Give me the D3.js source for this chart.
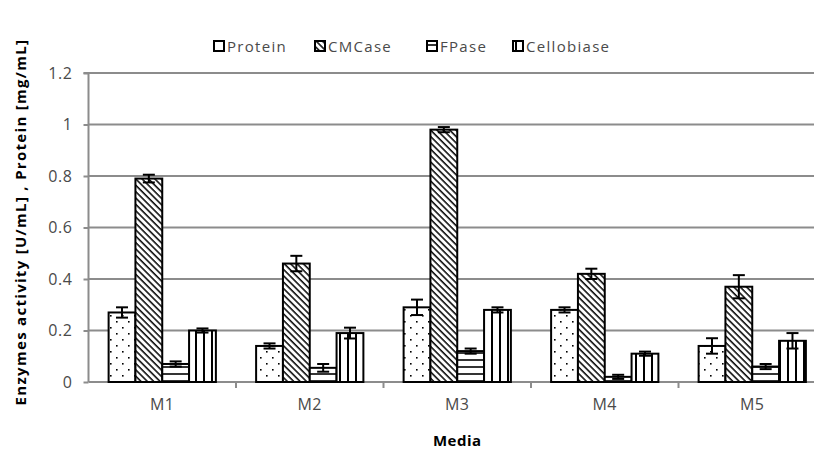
<!DOCTYPE html>
<html><head><meta charset="utf-8">
<script src="https://cdnjs.cloudflare.com/ajax/libs/d3/7.8.5/d3.min.js"></script>
<style>body{margin:0;background:#fff}svg{display:block}</style>
</head><body><svg id="c" width="814" height="450"></svg>
<script>
const categories = ["M1","M2","M3","M4","M5"];
const seriesNames = ["Protein","CMCase","FPase","Cellobiase"];
const protein    = [0.27,0.14,0.29,0.28,0.14];
const cmcase     = [0.79,0.46,0.98,0.42,0.37];
const fpase      = [0.07,0.055,0.12,0.02,0.06];
const cellobiase = [0.20,0.19,0.28,0.11,0.16];
const proteinErr    = [0.02,0.01,0.03,0.01,0.03];
const cmcaseErr     = [0.015,0.03,0.01,0.02,0.045];
const fpaseErr      = [0.01,0.015,0.01,0.008,0.01];
const cellobiaseErr = [0.008,0.021,0.01,0.008,0.03];
const yTicks = [0,0.2,0.4,0.6,0.8,1,1.2];
const yTickLabels = ["0","0.2","0.4","0.6","0.8","1","1.2"];

const values = [protein,cmcase,fpase,cellobiase];
const errs = [proteinErr,cmcaseErr,fpaseErr,cellobiaseErr];
const patterns = ["pDots","pDiag","pHoriz","pVert"];

const svg = d3.select("#c");
const L = 88.5, R = 826, T = 73, B = 382;
const x = d3.scaleBand().domain(categories).range([L,R]).paddingInner(0).paddingOuter(0);
// Excel-style: 4 bars + gap of 1.5 bar widths per category
const bw = x.bandwidth()/5.5;
const y = d3.scaleLinear().domain([0,1.2]).range([B,T]);
const FONT = "'Open Sans',sans-serif";

const defs = svg.append("defs");
let p = defs.append("pattern").attr("id","pDots").attr("patternUnits","userSpaceOnUse").attr("width",12).attr("height",12);
p.append("rect").attr("width",12).attr("height",12).attr("fill","#fff");
p.append("rect").attr("x",2).attr("y",3).attr("width",1.6).attr("height",1.6).attr("fill","#000");
p.append("rect").attr("x",8).attr("y",9).attr("width",1.6).attr("height",1.6).attr("fill","#000");
p = defs.append("pattern").attr("id","pDiag").attr("patternUnits","userSpaceOnUse").attr("width",4.5).attr("height",4.5).attr("patternTransform","rotate(-45)");
p.append("rect").attr("width",4.5).attr("height",4.5).attr("fill","#fff");
p.append("line").attr("x1",1).attr("x2",1).attr("y1",0).attr("y2",4.5).attr("stroke","#000").attr("stroke-width",1.5);
p = defs.append("pattern").attr("id","pHoriz").attr("patternUnits","userSpaceOnUse").attr("width",8).attr("height",7);
p.append("rect").attr("width",8).attr("height",7).attr("fill","#fff");
p.append("line").attr("x1",0).attr("x2",8).attr("y1",3).attr("y2",3).attr("stroke","#000").attr("stroke-width",1.6);
p = defs.append("pattern").attr("id","pVert").attr("patternUnits","userSpaceOnUse").attr("width",8).attr("height",8);
p.append("rect").attr("width",8).attr("height",8).attr("fill","#fff");
p.append("line").attr("x1",4).attr("x2",4).attr("y1",0).attr("y2",8).attr("stroke","#000").attr("stroke-width",2);

// gridlines
svg.append("g").selectAll("line").data(yTicks.slice(1)).join("line")
  .attr("x1",L).attr("x2",R).attr("y1",d=>y(d)).attr("y2",d=>y(d))
  .attr("stroke","#8c8c8c").attr("stroke-width",2);

// y axis
const yAxis = d3.axisLeft(y).tickValues(yTicks).tickFormat((d,i)=>yTickLabels[i]).tickSize(5).tickPadding(11);
const gy = svg.append("g").attr("transform",`translate(${L},0)`).call(yAxis);
gy.select(".domain").attr("stroke","#8c8c8c").attr("stroke-width",2).attr("d",`M-5,${T}H0V${B}`);
gy.selectAll(".tick line").attr("stroke","#8c8c8c").attr("stroke-width",2);
gy.selectAll("text").attr("font-family",FONT).attr("font-size",16).attr("fill","#4a4a4a")
  .attr("letter-spacing","0.6px");

// x axis
const xAxis = d3.axisBottom(x).tickSize(0).tickPadding(17);
const gx = svg.append("g").attr("transform",`translate(0,${B})`).call(xAxis);
gx.select(".domain").attr("stroke","#8c8c8c").attr("stroke-width",2).attr("d",`M${L},0H${R}`);
gx.selectAll("text").attr("font-family",FONT).attr("font-size",16).attr("fill","#4a4a4a").attr("letter-spacing","0.6px");
gx.append("g").selectAll("line").data(categories.slice(1)).join("line")
  .attr("x1",d=>x(d)).attr("x2",d=>x(d)).attr("y1",0).attr("y2",6)
  .attr("stroke","#8c8c8c").attr("stroke-width",2);

// bars
const data = [];
categories.forEach((c,ci)=>{
  seriesNames.forEach((s,si)=>{
    data.push({c, si, v: values[si][ci], e: errs[si][ci]});
  });
});
const bx = d => x(d.c) + 0.75*bw + d.si*bw;
svg.append("g").selectAll("rect").data(data).join("rect")
  .attr("x",d=>bx(d)).attr("width",bw)
  .attr("y",d=>y(d.v)).attr("height",d=>B-y(d.v))
  .attr("fill",d=>`url(#${patterns[d.si]})`)
  .attr("stroke","#000").attr("stroke-width",2);

// error bars
const eg = svg.append("g").attr("stroke","#000").attr("stroke-width",2);
data.forEach(d=>{
  const cx = bx(d)+bw/2;
  eg.append("line").attr("x1",cx).attr("x2",cx).attr("y1",y(d.v+d.e)).attr("y2",y(d.v-d.e));
  eg.append("line").attr("x1",cx-6).attr("x2",cx+6).attr("y1",y(d.v+d.e)).attr("y2",y(d.v+d.e));
  eg.append("line").attr("x1",cx-6).attr("x2",cx+6).attr("y1",y(d.v-d.e)).attr("y2",y(d.v-d.e));
});

// legend
const legX = [213,314,426,512];
const lg = svg.append("g");
seriesNames.forEach((s,i)=>{
  lg.append("rect").attr("x",legX[i]+1).attr("y",41).attr("width",10).attr("height",10)
    .attr("fill",`url(#${patterns[i]})`).attr("stroke","#000").attr("stroke-width",2);
  lg.append("text").attr("x",legX[i]+14).attr("y",51.5).text(s)
    .attr("font-family",FONT).attr("font-size",15).attr("fill","#4a4a4a").attr("letter-spacing","1.3px");
});

// axis titles
svg.append("text").attr("x",(L+R)/2).attr("y",446).attr("text-anchor","middle").text("Media")
  .attr("font-family",FONT).attr("font-weight",700).attr("font-size",15).attr("fill","#000").attr("letter-spacing","0.5px");
svg.append("text").attr("transform",`translate(26,${222}) rotate(-90)`).attr("text-anchor","middle")
  .text("Enzymes activity [U/mL] , Protein [mg/mL]")
  .attr("font-family",FONT).attr("font-weight",700).attr("font-size",15).attr("fill","#000").attr("letter-spacing","1.3px");
</script></body></html>
